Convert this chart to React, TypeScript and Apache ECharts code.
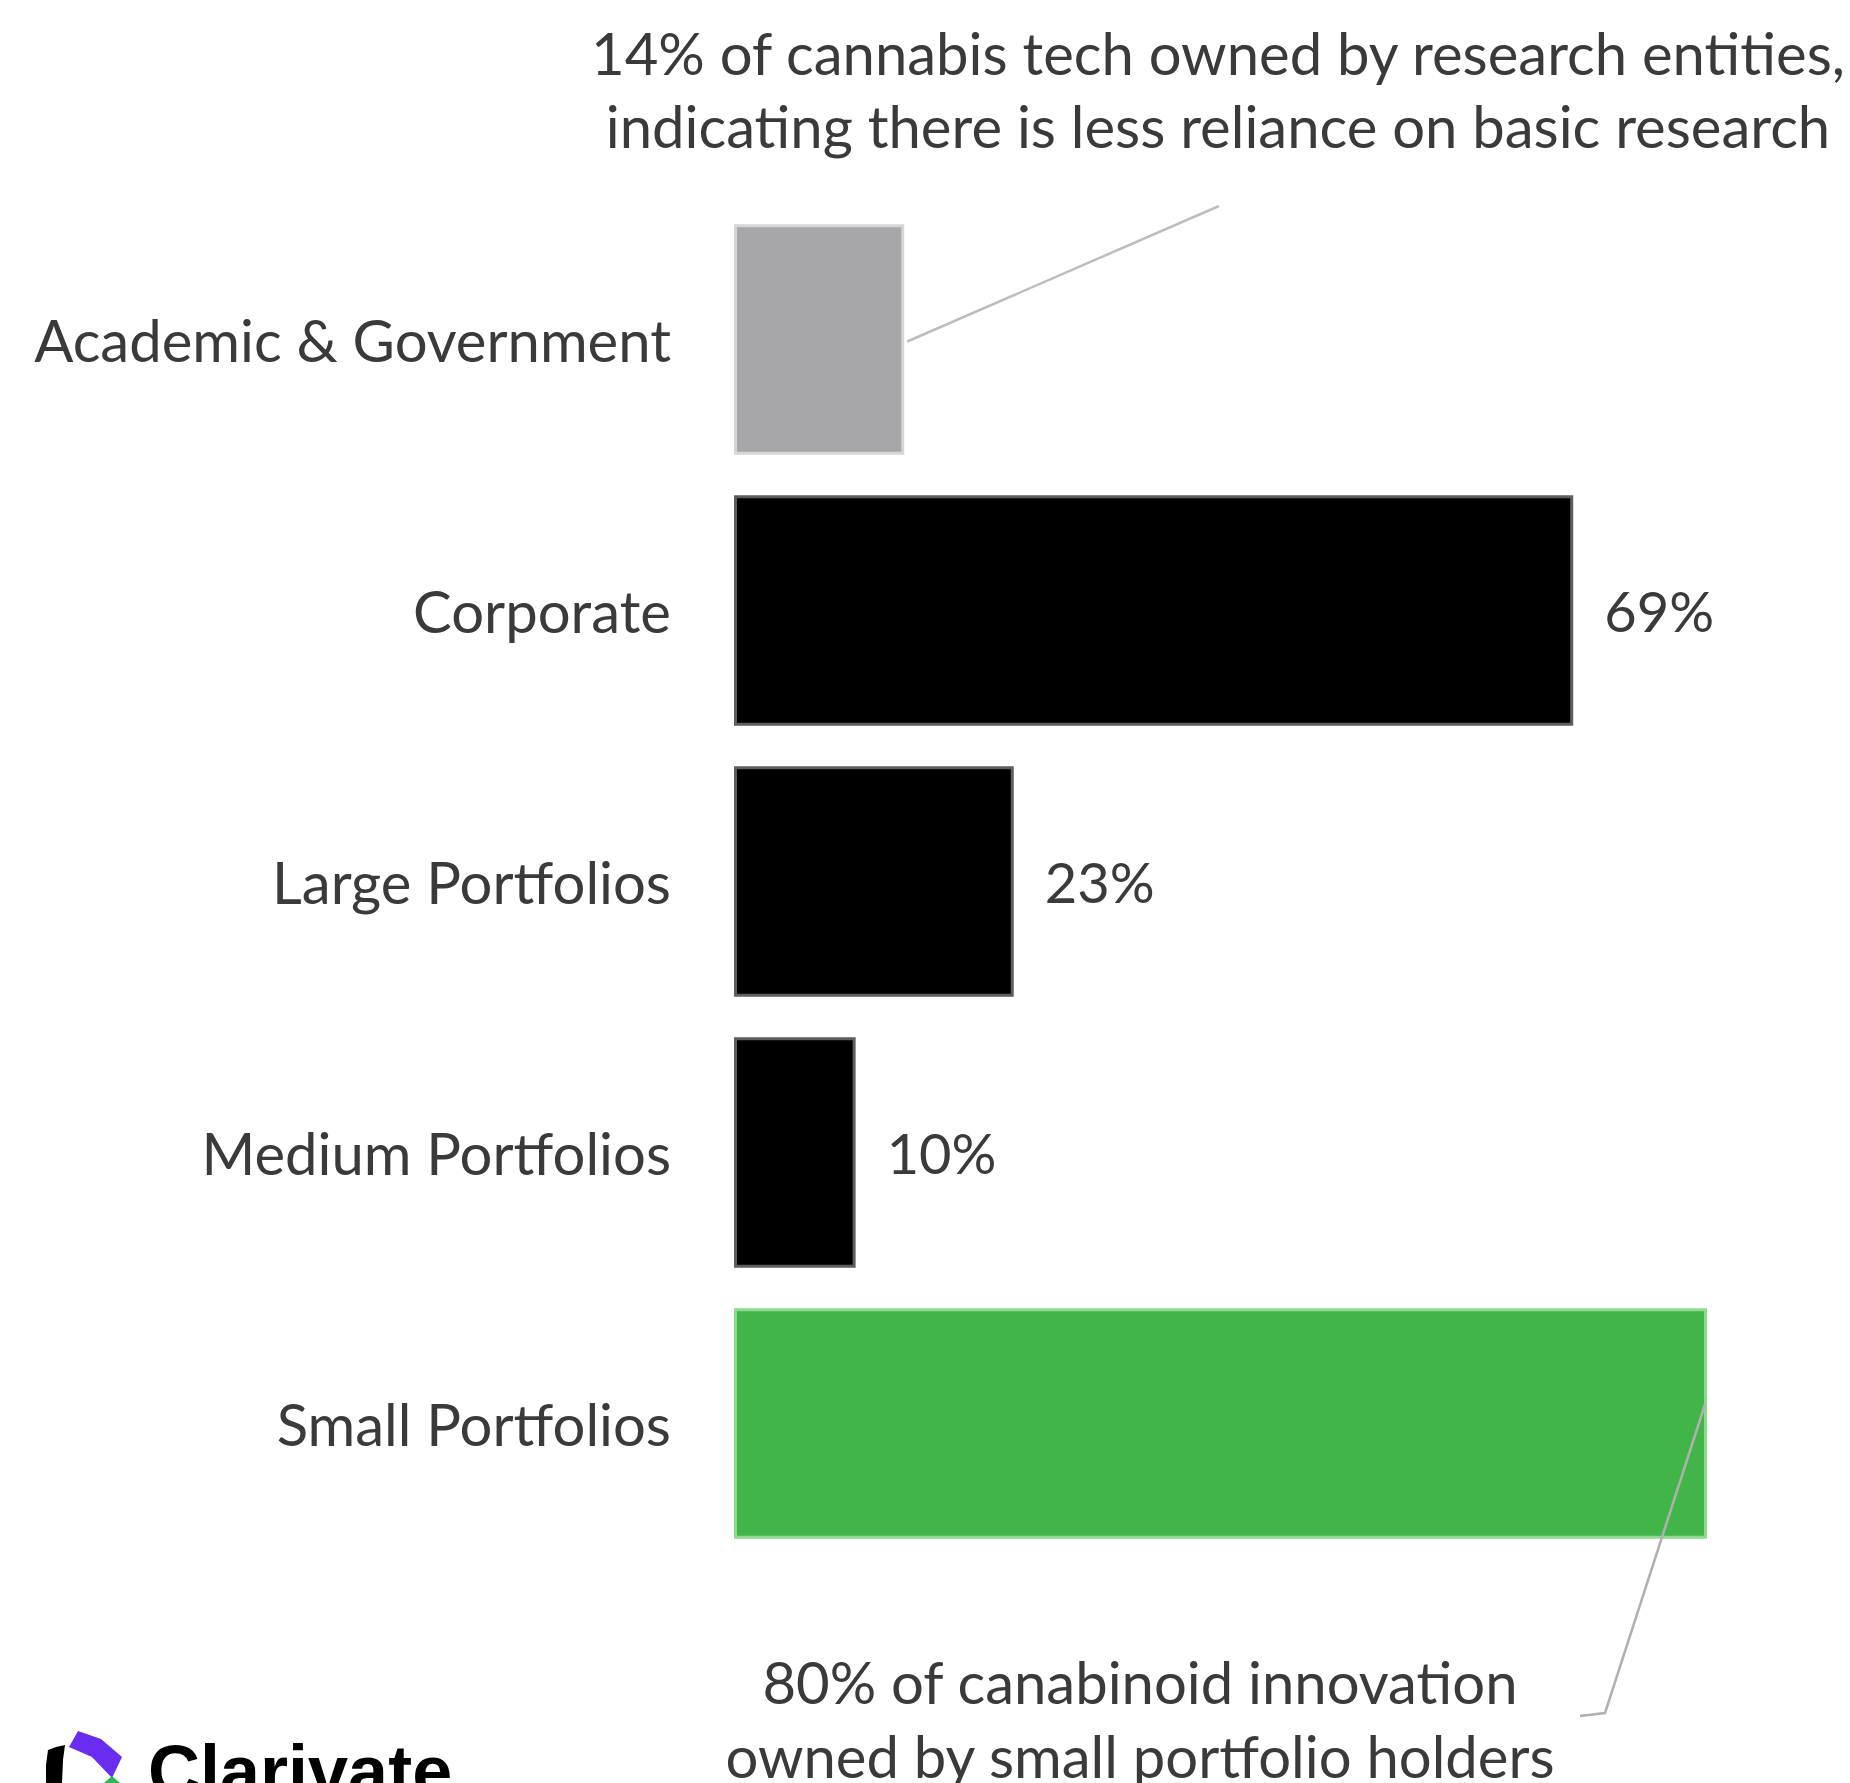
import React, { useEffect, useRef } from "react";
import * as echarts from "echarts";

const categories = [
  "Academic & Government",
  "Corporate",
  "Large Portfolios",
  "Medium Portfolios",
  "Small Portfolios",
];
const values = [14, 69, 23, 10, 80];
const showValueLabel = [false, true, true, true, false];
const barColors = ["#a7a7aa", "#000000", "#000000", "#000000", "#42b549"];
const barBorders = ["#d6d6d8", "#5e5e5e", "#5e5e5e", "#5e5e5e", "#8fd88f"];
const topNote = "14% of cannabis tech owned by research entities,\nindicating there is less reliance on basic research";
const bottomNote = "80% of canabinoid innovation\nowned by small portfolio holders";

const FONT = "Lato, 'Open Sans', sans-serif";
const TEXT = "#3a3a3a";

export default function App() {
  const ref = useRef<HTMLDivElement>(null);
  useEffect(() => {
    if (!ref.current) return;
    const chart = echarts.init(ref.current, undefined, { renderer: "svg" });
    chart.setOption({
      animation: false,
      backgroundColor: "#ffffff",
      grid: { left: 734, right: 143, top: 204, bottom: 224, containLabel: false },
      xAxis: {
        type: "value",
        min: 0,
        max: 80,
        show: false,
      },
      yAxis: {
        type: "category",
        data: categories,
        inverse: true,
        axisLine: { show: false },
        axisTick: { show: false },
        splitLine: { show: false },
        axisLabel: {
          margin: 63,
          fontFamily: FONT,
          fontSize: 58,
          color: TEXT,
        },
      },
      series: [
        {
          type: "bar",
          barCategoryGap: "15%",
          data: values.map((v, i) => ({
            value: v,
            itemStyle: {
              color: barColors[i],
              borderColor: barBorders[i],
              borderWidth: 3,
            },
            label: {
              show: showValueLabel[i],
              position: "right",
              distance: 31,
              formatter: "{c}%",
              fontFamily: FONT,
              fontSize: 56,
              color: TEXT,
            },
          })),
        },
      ],
    });

    const pA = chart.convertToPixel({ gridIndex: 0 }, [values[0], 0]) as number[];
    const pS = chart.convertToPixel({ gridIndex: 0 }, [values[4], 4]) as number[];

    chart.setOption({
      graphic: [
        {
          type: "text",
          id: "topNote",
          x: 1218,
          y: 89,
          style: {
            text: topNote,
            fontFamily: FONT,
            fontSize: 58,
            lineHeight: 73,
            fill: TEXT,
            align: "center",
            verticalAlign: "middle",
          },
        },
        {
          type: "text",
          id: "bottomNote",
          x: 1140,
          y: 1718,
          style: {
            text: bottomNote,
            fontFamily: FONT,
            fontSize: 58,
            lineHeight: 74,
            fill: TEXT,
            align: "center",
            verticalAlign: "middle",
          },
        },
        {
          type: "line",
          id: "topLeader",
          shape: { x1: 1219, y1: 206, x2: pA[0] + 3, y2: pA[1] + 2 },
          style: { stroke: "#bdbdbd", lineWidth: 2.5 },
        },
        {
          type: "polyline",
          id: "bottomLeader",
          z: 10,
          shape: {
            points: [
              [pS[0] - 2, pS[1] - 19],
              [1605, 1713],
              [1580, 1716],
            ],
          },
          style: { stroke: "#b0b0b0", lineWidth: 2.5, fill: "none" },
        },
        {
          type: "polygon",
          id: "logoBlack",
          shape: {
            points: [
              [48, 1750],
              [56, 1747],
              [65, 1745],
              [63, 1760],
              [62, 1783],
              [46, 1783],
              [46, 1765],
            ],
          },
          style: { fill: "#000000" },
        },
        {
          type: "polygon",
          id: "logoPurple",
          shape: {
            points: [
              [78, 1731],
              [101, 1739],
              [122, 1757],
              [112, 1778],
              [92, 1757],
              [69, 1747],
            ],
          },
          style: { fill: "#6a2cf0" },
        },
        {
          type: "polygon",
          id: "logoGreen",
          shape: {
            points: [
              [112, 1776],
              [120, 1783],
              [104, 1783],
            ],
          },
          style: { fill: "#2db84a" },
        },
        {
          type: "text",
          id: "logoText",
          x: 148,
          y: 1771,
          style: {
            text: "Clarivate",
            fontFamily: "'Liberation Sans', Arial, sans-serif",
            fontWeight: "bold",
            fontSize: 72,
            fill: "#000000",
            align: "left",
            verticalAlign: "middle",
          },
        },
      ],
    });

    return () => chart.dispose();
  }, []);

  return (
    <div
      ref={ref}
      style={{ position: "fixed", left: 0, top: 0, width: 1850, height: 1783 }}
    />
  );
}
